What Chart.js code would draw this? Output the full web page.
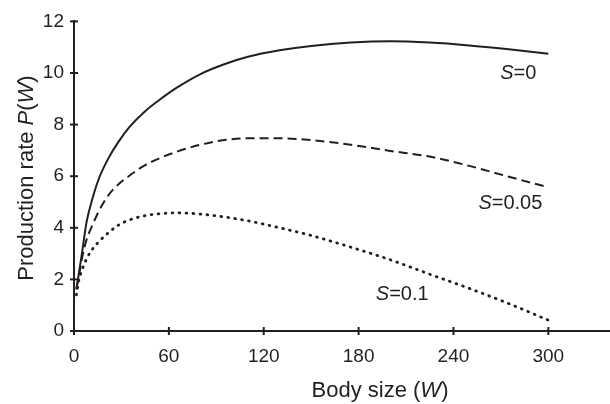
<!DOCTYPE html>
<html>
<head>
<meta charset="utf-8">
<script src="https://cdn.jsdelivr.net/npm/chart.js@4.4.1/dist/chart.umd.min.js"></script>
<style>
  html, body { margin: 0; padding: 0; background: #fff; }
  #wrap { width: 610px; height: 404px; }
</style>
</head>
<body>
<div id="wrap"><canvas id="prodChart" width="610" height="404"></canvas></div>
<script>
// body size values (x) and production rate for each S
const bodySize = [1.5, 3, 5, 8, 12, 16, 22, 28, 35, 45, 55, 65, 80, 95, 110, 130, 150, 175, 200, 225, 250, 275, 300];
const prodS0   = [1.6, 2.2, 3.0, 4.24, 5.2, 5.95, 6.72, 7.32, 7.9, 8.52, 9.0, 9.43, 9.96, 10.34, 10.63, 10.88, 11.05, 11.18, 11.23, 11.18, 11.07, 10.92, 10.75];
const prodS005 = [1.65, 2.1, 2.8, 3.55, 4.15, 4.68, 5.28, 5.68, 6.02, 6.43, 6.72, 6.95, 7.22, 7.4, 7.47, 7.47, 7.4, 7.22, 6.98, 6.76, 6.4, 5.98, 5.57];
const prodS01  = [1.4, 1.95, 2.35, 2.8, 3.2, 3.48, 3.82, 4.1, 4.3, 4.47, 4.55, 4.58, 4.53, 4.42, 4.27, 4.0, 3.7, 3.25, 2.76, 2.2, 1.65, 1.06, 0.42];

const xTicks = [0, 60, 120, 180, 240, 300];
const yTicks = [0, 2, 4, 6, 8, 10, 12];

// curve labels: [S value text, W, P]
const curveLabels = [
    ["0", 281, 10.04],
    ["0.05", 276, 5.0],
    ["0.1", 207.6, 1.49]
];

const ink = '#231f20';
const fontName = '"Liberation Sans", Arial, Helvetica, sans-serif';

function toPoints(ys) {
    return bodySize.map((w, i) => ({ x: w, y: ys[i] }));
}

// draw text where some parts are italic, centered at x
function mixedText(ctx, parts, x, y, size) {
    let total = 0;
    parts.forEach(p => {
        ctx.font = (p[1] ? 'italic ' : '') + size + 'px ' + fontName;
        total += ctx.measureText(p[0]).width;
    });
    let cx = x - total / 2;
    parts.forEach(p => {
        ctx.font = (p[1] ? 'italic ' : '') + size + 'px ' + fontName;
        ctx.fillText(p[0], cx, y);
        cx += ctx.measureText(p[0]).width;
    });
}

const extras = {
    id: 'extras',
    afterDraw(chart) {
        const ctx = chart.ctx;
        const xs = chart.scales.x, ys = chart.scales.y;
        ctx.save();
        ctx.strokeStyle = ink;
        ctx.fillStyle = ink;
        ctx.lineWidth = 2;

        // tick marks crossing the axes
        const x0 = xs.getPixelForValue(0), y0 = ys.getPixelForValue(0);
        xTicks.forEach(t => {
            const px = xs.getPixelForValue(t);
            ctx.beginPath();
            ctx.moveTo(px, y0 - 4);
            ctx.lineTo(px, y0 + 4);
            ctx.stroke();
        });
        yTicks.forEach(t => {
            const py = ys.getPixelForValue(t);
            ctx.beginPath();
            ctx.moveTo(x0 - 4, py);
            ctx.lineTo(x0 + 4, py);
            ctx.stroke();
        });

        ctx.textBaseline = 'alphabetic';
        // curve labels
        curveLabels.forEach(l => {
            const px = xs.getPixelForValue(l[1]);
            const py = ys.getPixelForValue(l[2]);
            mixedText(ctx, [["S", true], ["=" + l[0], false]], px, py + 7, 20);
        });

        // axis titles
        mixedText(ctx, [["Body size (", false], ["W", true], [")", false]], 380, 397, 22);
        ctx.translate(33, 178);
        ctx.rotate(-Math.PI / 2);
        mixedText(ctx, [["Production rate ", false], ["P", true], ["(", false], ["W", true], [")", false]], 0, 0, 22);
        ctx.restore();
    }
};

const curveStyle = {
    borderColor: ink,
    borderWidth: 2,
    pointRadius: 0,
    fill: false,
    cubicInterpolationMode: 'monotone'
};

new Chart(document.getElementById('prodChart').getContext('2d'), {
    type: 'line',
    data: {
        datasets: [
            Object.assign({}, curveStyle, { label: 'S=0', data: toPoints(prodS0) }),
            Object.assign({}, curveStyle, { label: 'S=0.05', data: toPoints(prodS005), borderDash: [9, 5] }),
            Object.assign({}, curveStyle, { label: 'S=0.1', data: toPoints(prodS01), borderDash: [0.8, 6.2], borderCapStyle: 'round', borderWidth: 2.8 })
        ]
    },
    options: {
        responsive: false,
        animation: false,
        layout: { padding: { top: 16, right: 0, left: 0, bottom: 0 } },
        plugins: { legend: { display: false }, tooltip: { enabled: false } },
        scales: {
            x: {
                type: 'linear',
                min: 0,
                max: 339,
                grid: { display: false, drawTicks: false },
                border: { display: true, color: ink, width: 2 },
                afterBuildTicks: s => { s.ticks = xTicks.map(v => ({ value: v })); },
                afterFit: s => { s.height = 73; },
                ticks: { color: ink, font: { family: fontName, size: 19 }, padding: 14, maxRotation: 0 }
            },
            y: {
                min: 0,
                max: 12,
                grid: { display: false, drawTicks: false },
                border: { display: true, color: ink, width: 2 },
                afterBuildTicks: s => { s.ticks = yTicks.map(v => ({ value: v })); },
                afterFit: s => { s.width = 74; },
                ticks: { color: ink, font: { family: fontName, size: 19 }, padding: 10 }
            }
        }
    },
    plugins: [extras]
});
</script>
</body>
</html>
